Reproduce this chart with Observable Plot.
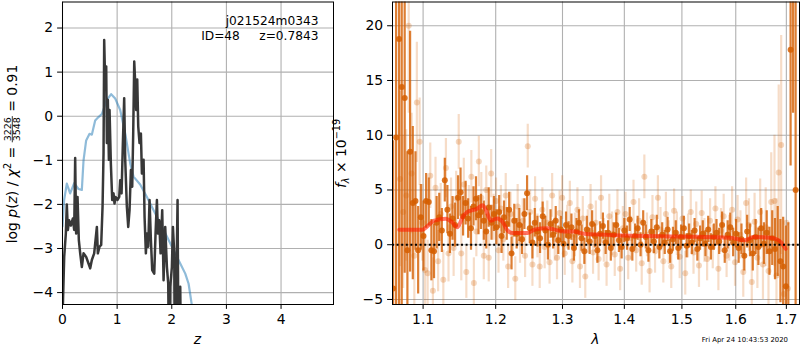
<!DOCTYPE html>
<html><head><meta charset="utf-8">
<script src="https://cdn.jsdelivr.net/npm/d3@7"></script>
<script src="https://cdn.jsdelivr.net/npm/@observablehq/plot@0.6"></script>
<style>
body{margin:0;background:#fff;}
#wrap{position:relative;width:800px;height:350px;font-family:"DejaVu Sans";}
#wrap svg{position:absolute;top:0;}
</style></head><body><div id="wrap"></div>
<script>
// ---------- left panel: log p(z) ----------
const zTicks = [0, 1, 2, 3, 4];
const logpTicks = [-4, -3, -2, -1, 0, 1, 2];
const pzZ = [0.000,0.031,0.061,0.079,0.098,0.122,0.153,0.189,0.214,0.232,0.250,0.275,0.299,0.324,0.354,0.385,0.433,0.476,0.507,0.537,0.580,0.629,0.647,0.678,0.708,0.733,0.751,0.763,0.781,0.800,0.812,0.830,0.849,0.861,0.885,0.910,0.934,0.952,0.971,1.007,1.038,1.056,1.081,1.105,1.129,1.148,1.178,1.203,1.227,1.252,1.276,1.294,1.313,1.331,1.349,1.368,1.386,1.410,1.435,1.453,1.484,1.502,1.526,1.545,1.569,1.593,1.618,1.642,1.679,1.703,1.728,1.746,1.770,1.795,1.825,1.850,1.880,1.911,1.935,1.954,1.972,2.002,2.021,2.045,2.057,2.082,2.106,2.125,2.155,2.173];
const pzLog = [-4.6,-3.19,-2.66,-2.00,-2.58,-2.36,-2.48,-2.32,-2.58,-0.95,-2.66,-1.83,-2.81,-3.11,-3.42,-3.11,-3.19,-3.34,-3.45,-3.26,-3.11,-2.51,-3.11,-2.96,-2.92,-2.05,-0.84,1.73,0.75,1.13,-0.61,0.37,-0.99,0.14,-1.07,-1.90,-1.75,-1.98,-1.83,-1.90,-1.83,-1.45,-1.75,-0.61,0.41,-0.99,-2.05,-2.51,-2.13,-1.22,-1.60,-0.39,1.24,0.75,0.14,0.83,-0.23,-0.61,-0.39,-1.30,-0.99,-2.28,-3.11,-2.66,-2.96,-1.90,-2.81,-3.49,-3.57,-2.66,-1.90,-2.66,-2.36,-3.11,-2.13,-3.72,-2.51,-3.42,-3.80,-6.0,-3.87,-3.42,-2.51,-3.11,-6.0,-4.02,-1.90,-6.0,-3.87,-6.0];
const priorZ = [0.000,0.030,0.079,0.140,0.214,0.293,0.354,0.385,0.433,0.495,0.537,0.598,0.659,0.720,0.812,0.891,0.965,1.056,1.148,1.239,1.300,1.422,1.545,1.667,1.789,1.911,2.033,2.155,2.247,2.308,2.369,2.400];
const priorLog = [-2.5,-1.9,-1.53,-1.75,-1.52,-1.65,-1.67,-1.0,-0.55,-0.40,-0.42,-0.10,-0.02,0.05,0.37,0.50,0.40,0.14,-0.39,-1.07,-1.37,-1.55,-1.83,-2.13,-2.43,-2.73,-3.04,-3.34,-3.57,-3.80,-4.30,-4.60];

// ---------- right panel: spectrum ----------
const lamTicks = [1.1, 1.2, 1.3, 1.4, 1.5, 1.6, 1.7];
const fluxTicks = [-5, 0, 5, 10, 15, 20];
const zeroLevel = [0];
const darkLam = [1.0612,1.0650,1.0688,1.0722,1.0760,1.0795,1.0830,1.0865,1.0900,1.0935,1.0970,1.1005,1.1040,1.1075,1.1110,1.1145,1.1180,1.1215,1.1250,1.1290,1.1325,1.1360,1.1395,1.1430,1.1470,1.1505,1.1540,1.1575,1.1610,1.1650,1.1685,1.1720,1.1755,1.1790,1.1830,1.1865,1.1900,1.1940,1.1975,1.2010,1.2050,1.2085,1.2120,1.2160,1.2195,1.2230,1.2270,1.2305,1.2345,1.2385,1.2420,1.2460,1.2500,1.2540,1.2575,1.2615,1.2655,1.2695,1.2735,1.2775,1.2815,1.2855,1.2895,1.2935,1.2975,1.3015,1.3055,1.3095,1.3140,1.3180,1.3220,1.3260,1.3300,1.3345,1.3385,1.3430,1.3470,1.3515,1.3555,1.3600,1.3645,1.3690,1.3730,1.3775,1.3820,1.3865,1.3910,1.3955,1.4000,1.4045,1.4090,1.4135,1.4180,1.4225,1.4275,1.4320,1.4365,1.4410,1.4460,1.4505,1.4555,1.4600,1.4650,1.4695,1.4745,1.4790,1.4840,1.4890,1.4935,1.4985,1.5035,1.5085,1.5130,1.5180,1.5230,1.5280,1.5330,1.5380,1.5430,1.5480,1.5530,1.5585,1.5635,1.5685,1.5740,1.5790,1.5845,1.5895,1.5950,1.6005,1.6055,1.6110,1.6165,1.6220,1.6275,1.6330,1.6385,1.6440,1.6495,1.6550,1.6605,1.6660,1.6715,1.6770,1.6825,1.6880,1.6935,1.6990,1.7040,1.7087,1.7138,1.7190];
const darkFlux = [-4.0,9.8,18.8,14.4,13.4,-0.5,8.5,3.8,4.0,-0.5,2.5,0.8,4.0,3.9,-0.5,-0.6,2.0,2.5,1.3,5.9,3.2,1.0,2.4,1.8,4.3,4.8,2.6,3.8,2.4,1.5,3.5,4.2,2.7,3.0,2.2,1.2,3.4,2.0,2.8,1.6,3.0,0.8,2.5,1.9,3.2,-0.8,2.2,1.0,1.8,0.5,2.8,4.7,1.5,0.2,2.0,1.2,0.6,2.6,1.3,0.0,1.9,0.9,2.2,0.4,1.4,0.1,1.8,0.8,1.6,-0.3,1.2,2.0,0.6,-0.6,1.4,0.3,1.9,0.8,-0.5,1.0,1.7,0.2,1.1,-0.3,0.9,1.8,0.4,-0.2,1.3,0.6,2.3,-0.4,0.8,1.5,0.0,2.0,0.7,-0.5,1.2,0.3,1.6,-0.2,0.9,0.2,1.4,-0.6,0.5,1.1,-0.3,0.7,1.5,-0.1,0.8,0.2,1.3,-0.4,0.6,1.0,0.1,1.4,-0.2,0.7,1.1,0.3,1.8,-0.5,0.9,1.6,0.2,1.0,-0.3,0.5,-1.0,1.2,0.4,-0.8,0.7,-0.2,1.5,0.1,1.1,-0.6,0.6,-0.4,0.3,-1.5,-2.0,-3.8,-6.0,17.8,25.0,5.0];
const darkErr = [13.5,30,30,22,16,9,11,7,4.5,4,3,3.2,2.5,2.2,2.8,2.5,2.4,2.2,2.0,2.0,2.2,1.8,2.0,2.0,2.0,2.2,1.8,2.0,1.8,2.0,1.8,2.0,1.8,1.6,1.8,1.6,1.8,1.6,1.6,1.6,1.5,1.6,1.5,1.5,1.6,1.5,1.5,1.4,1.5,1.4,1.4,1.6,1.4,1.5,1.3,1.4,1.4,1.3,1.3,1.4,1.3,1.3,1.3,1.3,1.2,1.3,1.2,1.3,1.2,1.2,1.2,1.2,1.2,1.2,1.2,1.2,1.2,1.1,1.2,1.1,1.2,1.1,1.1,1.2,1.1,1.1,1.1,1.1,1.1,1.1,1.1,1.1,1.1,1.1,1.1,1.1,1.1,1.1,1.1,1.1,1.1,1.1,1.1,1.1,1.1,1.1,1.1,1.1,1.1,1.1,1.1,1.1,1.1,1.1,1.1,1.1,1.1,1.2,1.2,1.2,1.2,1.2,1.2,1.2,1.2,1.2,1.3,1.3,1.3,1.3,1.4,1.4,1.4,1.5,1.5,1.6,1.6,1.7,1.8,1.9,2.0,2.2,2.5,2.8,3.2,3.8,4.5,5.5,8,10.6,13,30];
const lightLam = [1.0700,1.0740,1.0780,1.0812,1.0850,1.0885,1.0918,1.0955,1.0990,1.1025,1.1060,1.1095,1.1130,1.1165,1.1200,1.1235,1.1270,1.1305,1.1340,1.1375,1.1410,1.1445,1.1480,1.1515,1.1550,1.1585,1.1620,1.1655,1.1690,1.1725,1.1760,1.1795,1.1830,1.1865,1.1900,1.1935,1.1970,1.2005,1.2040,1.2075,1.2110,1.2145,1.2180,1.2215,1.2250,1.2285,1.2320,1.2355,1.2395,1.2430,1.2470,1.2505,1.2540,1.2580,1.2615,1.2650,1.2690,1.2725,1.2765,1.2800,1.2840,1.2880,1.2915,1.2955,1.2995,1.3035,1.3075,1.3115,1.3155,1.3195,1.3235,1.3275,1.3320,1.3360,1.3400,1.3445,1.3485,1.3530,1.3575,1.3615,1.3660,1.3705,1.3750,1.3795,1.3840,1.3885,1.3930,1.3975,1.4020,1.4065,1.4110,1.4155,1.4200,1.4250,1.4295,1.4340,1.4385,1.4430,1.4480,1.4525,1.4575,1.4620,1.4670,1.4715,1.4765,1.4810,1.4860,1.4910,1.4960,1.5010,1.5060,1.5110,1.5160,1.5210,1.5260,1.5310,1.5360,1.5410,1.5460,1.5515,1.5565,1.5615,1.5670,1.5720,1.5770,1.5825,1.5875,1.5930,1.5985,1.6035,1.6090,1.6145,1.6200,1.6255,1.6310,1.6365,1.6420,1.6475,1.6530,1.6585,1.6640,1.6695,1.6760,1.6800,1.6845,1.6895,1.6950,1.7000,1.7030];
const lightFlux = [6.0,3.0,4.5,20.0,6.5,-1.0,13.0,9.4,2.0,-2.3,-2.6,6.3,-4.2,5.2,-1.5,2.8,-3.2,7.0,-0.8,3.5,-0.3,4.2,9.4,-0.8,5.5,-2.5,3.0,6.2,-3.5,1.2,7.6,4.3,-1.0,5.0,-1.2,6.5,2.5,4.0,-0.5,3.3,0.5,4.5,-2.0,2.8,1.0,-3.1,3.5,0.3,2.2,-1.0,9.0,3.0,-1.8,4.2,0.8,-2.0,3.2,-0.2,2.0,-1.6,4.5,0.5,-1.2,2.9,4.3,-0.8,1.6,3.8,-1.5,0.9,3.2,-2.0,2.4,-2.9,1.2,3.5,-0.7,2.0,-1.3,4.3,0.4,-1.8,2.6,1.0,-0.9,3.0,-2.2,1.5,2.8,-1.2,0.6,3.9,-0.5,2.2,-1.7,6.2,0.9,-2.4,2.5,-0.6,4.3,1.4,-1.5,2.8,0.2,-2.0,3.1,1.0,-1.1,2.4,-2.6,0.8,3.0,-0.7,1.9,-1.9,2.9,0.4,-1.3,2.2,-0.2,3.3,-2.2,1.3,2.6,-1.0,0.6,3.2,-1.6,2.3,0.9,-2.5,3.8,1.8,-3.4,2.1,-1.2,3.0,-1.8,1.6,-2.4,3.9,4.0,-2.8,6.6,9.1,-4.5,2.0,-4.0];
const lightErr = [8,7,6,8,5.5,5,5.5,4,3.5,3.2,3,3,3,2.8,2.8,2.8,2.7,2.7,2.6,2.6,2.6,2.5,2.5,2.5,2.4,2.4,2.4,2.4,2.3,2.3,2.3,2.3,2.2,2.2,2.2,2.2,2.1,2.1,2.1,2.1,2.0,2.0,2.0,2.0,2.0,2.0,2.0,2.0,2.0,2.0,2.0,2.0,2.0,2.0,2.0,2.0,2.0,2.0,2.0,2.0,2.0,2.0,2.0,2.0,2.0,2.0,2.0,2.0,2.0,2.0,2.0,2.0,2.0,2.0,2.0,2.0,2.0,2.0,2.0,2.0,2.0,2.0,2.0,2.0,2.0,2.0,2.0,2.0,2.0,2.0,2.0,2.0,2.0,2.0,2.0,2.0,2.0,2.0,2.0,2.0,2.0,2.0,2.0,2.0,2.0,2.0,2.0,2.0,2.0,2.0,2.0,2.0,2.0,2.0,2.0,2.0,2.0,2.0,2.0,2.0,2.0,2.0,2.0,2.0,2.0,2.0,2.1,2.1,2.2,2.2,2.2,2.3,2.3,2.4,2.5,2.6,2.8,3.0,3.2,3.6,4.0,4.5,6,7,8,10];
const modelLam = [1.0690,1.0723,1.0992,1.1058,1.1146,1.1303,1.1381,1.1463,1.1532,1.1601,1.1741,1.1812,1.1858,1.1929,1.2025,1.2097,1.2170,1.2243,1.2466,1.2565,1.2767,1.2865,1.3024,1.3181,1.3339,1.3994,1.4976,1.5901,1.6157,1.6351,1.6681,1.6848,1.6984];
const modelFlux = [1.37,1.37,1.37,1.7,2.2,2.38,2.1,1.6,2.5,3.0,3.3,3.6,3.2,2.2,2.4,2.1,1.3,1.06,1.06,1.37,1.5,1.4,1.2,1.2,1.0,0.85,0.75,0.64,0.4,0.7,0.64,0.4,-0.37];

// ---------- text ----------
const objName = "j021524m0343";
const objInfo = "ID=48     z=0.7843";
const dateStamp = "Fri Apr 24 10:43:53 2020";

// tables built from the arrays
const pzTable = pzZ.map((z, i) => ({z, v: pzLog[i]}));
const priorTable = priorZ.map((z, i) => ({z, v: priorLog[i]}));
const darkTable = darkLam.map((lam, i) => ({lam, f: darkFlux[i], e: darkErr[i]}));
const lightTable = lightLam.map((lam, i) => ({lam, f: lightFlux[i], e: lightErr[i]}));
const modelTable = modelLam.map((lam, i) => ({lam, f: modelFlux[i]}));

const FONT = "DejaVu Sans";
const gridStyle = {stroke: "#b0b0b0", strokeOpacity: 1, strokeWidth: 1.1};
const orange = "#d55e00";
const intFmt = d => (d < 0 ? "\u2212" + (-d) : String(d));
const wrap = document.getElementById("wrap");

const left = Plot.plot({
  width: 340, height: 350,
  marginLeft: 62, marginRight: 7, marginTop: 1.5, marginBottom: 46,
  style: {fontFamily: FONT, fontSize: "13.9px", color: "black", background: "transparent"},
  x: {domain: [0, 4.96], label: null},
  y: {domain: [-4.27, 2.59], label: null},
  marks: [
    Plot.gridX({ticks: zTicks, ...gridStyle}),
    Plot.gridY({ticks: logpTicks, ...gridStyle}),
    Plot.line(priorTable, {x: "z", y: "v", stroke: "#1f77b4", strokeOpacity: 0.5, strokeWidth: 2.2, clip: true}),
    Plot.line(pzTable, {x: "z", y: "v", stroke: "#383838", strokeWidth: 2.5, clip: true}),
    Plot.frame({stroke: "black"}),
    Plot.axisX({ticks: zTicks, tickSize: 4.9, tickPadding: 4.5, label: null, tickFormat: intFmt}),
    Plot.axisY({ticks: logpTicks, tickSize: 4.9, tickPadding: 4.5, label: null, tickFormat: intFmt})
  ]
});
left.style.left = "0px";
wrap.appendChild(left);

const right = Plot.plot({
  width: 460, height: 350,
  marginLeft: 52, marginRight: 1, marginTop: 1.5, marginBottom: 46,
  style: {fontFamily: FONT, fontSize: "13.9px", color: "black", background: "transparent"},
  x: {type: "log", domain: [1.0604, 1.727], label: null},
  y: {domain: [-5.46, 22.17], label: null},
  marks: [
    Plot.gridX({ticks: lamTicks, ...gridStyle}),
    Plot.gridY({ticks: fluxTicks, ...gridStyle}),
    Plot.ruleX(lightTable, {x: "lam", y1: d => d.f - d.e, y2: d => d.f + d.e, stroke: orange, strokeOpacity: 0.22, strokeWidth: 2.2, clip: true}),
    Plot.dot(lightTable, {x: "lam", y: "f", r: 3, fill: orange, fillOpacity: 0.25, clip: true}),
    Plot.ruleX(darkTable, {x: "lam", y1: d => d.f - d.e, y2: d => d.f + d.e, stroke: orange, strokeOpacity: 0.8, strokeWidth: 2.2, clip: true}),
    Plot.dot(darkTable, {x: "lam", y: "f", r: 3, fill: orange, fillOpacity: 0.85, clip: true}),
    Plot.line(modelTable, {x: "lam", y: "f", stroke: "#ff1a00", strokeOpacity: 0.6, strokeWidth: 4, curve: "monotone-x", clip: true}),
    Plot.ruleY(zeroLevel, {stroke: "black", strokeWidth: 2, strokeDasharray: "2,2.6"}),
    Plot.frame({stroke: "black"}),
    Plot.axisX({ticks: lamTicks, tickSize: 4.9, tickPadding: 4.5, label: null, tickFormat: d => d.toFixed(1)}),
    Plot.axisY({ticks: fluxTicks, tickSize: 4.9, tickPadding: 4.5, label: null, tickFormat: intFmt})
  ]
});
right.style.left = "340px";
wrap.appendChild(right);

// ---------- overlay with labels ----------
const ov = d3.select(wrap).append("svg")
  .attr("width", 800).attr("height", 350)
  .style("left", "0px").style("pointer-events", "none")
  .attr("font-family", FONT).attr("fill", "black");

function seq(g, parts) {
  let x = 0;
  for (const p of parts) {
    if (p.frac) {
      const n = g.append("text").attr("font-size", p.size).attr("y", p.ny).text(p.num);
      const d = g.append("text").attr("font-size", p.size).attr("y", p.dy).text(p.den);
      const wn = n.node().getComputedTextLength(), wd = d.node().getComputedTextLength();
      const w = Math.max(wn, wd) + 2;
      n.attr("x", x + (w - wn) / 2);
      d.attr("x", x + (w - wd) / 2);
      g.append("line").attr("x1", x).attr("x2", x + w).attr("y1", p.ly).attr("y2", p.ly)
        .attr("stroke", "black").attr("stroke-width", 0.8);
      x += w;
    } else {
      const t = g.append("text").attr("x", x).attr("y", p.y || 0).attr("font-size", p.size)
        .style("white-space", "pre").text(p.t);
      if (p.italic) t.attr("font-style", "italic");
      x += t.node().getComputedTextLength();
    }
  }
  return x;
}

// left y label
{
  const g = ov.append("g").attr("transform", "translate(16.5,154) rotate(-90)");
  const inner = g.append("g");
  const W = seq(inner, [
    {t: "log ", size: 13.9},
    {t: "p", size: 13.9, italic: true},
    {t: "(", size: 13.9},
    {t: "z", size: 13.9, italic: true},
    {t: ") / ", size: 13.9},
    {t: "χ", size: 13.9, italic: true},
    {t: "2", size: 9.7, y: -5.5},
    {t: " = ", size: 13.9},
    {frac: true, num: "3226", den: "3548", size: 9.5, ny: -5.2, dy: 3.8, ly: -4.2},
    {t: " = 0.91", size: 13.9}
  ]);
  inner.attr("transform", `translate(${-W / 2},0)`);
}
// right y label
{
  const g = ov.append("g").attr("transform", "translate(346,153.5) rotate(-90)");
  const inner = g.append("g");
  const W = seq(inner, [
    {t: "f", size: 13.9, italic: true},
    {t: "λ", size: 9.7, italic: true, y: 3},
    {t: " × 10", size: 13.9},
    {t: "−19", size: 9.7, y: -6}
  ]);
  inner.attr("transform", `translate(${-W / 2},0)`);
}
// x labels
ov.append("text").attr("x", 197.5).attr("y", 343.5).attr("text-anchor", "middle")
  .attr("font-size", 13.9).attr("font-style", "italic").text("z");
ov.append("text").attr("x", 595.3).attr("y", 344).attr("text-anchor", "middle")
  .attr("font-size", 13.9).attr("font-style", "italic").text("λ");
// annotations
ov.append("text").attr("x", 318.5).attr("y", 24.5).attr("text-anchor", "end")
  .attr("font-size", 12.2).text(objName);
ov.append("text").attr("x", 318.5).attr("y", 39.5).attr("text-anchor", "end")
  .attr("font-size", 12.2).style("white-space", "pre").text(objInfo);
ov.append("text").attr("x", 788).attr("y", 341.5).attr("text-anchor", "end")
  .attr("font-size", 6.9).text(dateStamp);
</script>
</body></html>
